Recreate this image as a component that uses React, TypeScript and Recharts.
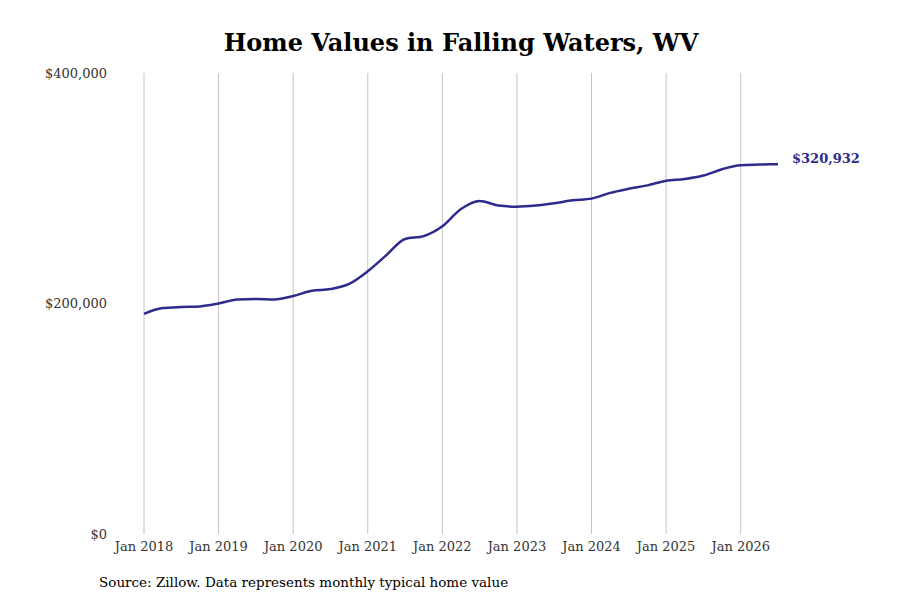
import React from 'react';
import { LineChart, Line, XAxis, YAxis, ReferenceLine } from 'recharts';

// quarterly readings, t = years since Jan 2018
const quarters = [
  0, 0.25, 0.5, 0.75, 1, 1.25, 1.5, 1.75, 2, 2.25, 2.5, 2.75, 3, 3.25, 3.5, 3.75,
  4, 4.25, 4.5, 4.75, 5, 5.25, 5.5, 5.75, 6, 6.25, 6.5, 6.75, 7, 7.25, 7.5, 7.75,
  8, 8.25, 8.5,
];
const values = [
  191000, 196000, 197000, 197500, 200000, 203500, 204000, 203500, 206500, 211000, 212500, 217000,
  228000, 242000, 256000, 258500, 267000, 282000, 289000, 285000, 284000, 285000, 287000, 289500,
  291000, 296000, 299500, 302500, 306500, 308000, 311000, 316500, 320000, 320500, 320932,
];
const yearTicks = [0, 1, 2, 3, 4, 5, 6, 7, 8];
const yearLabels = ['Jan 2018', 'Jan 2019', 'Jan 2020', 'Jan 2021', 'Jan 2022', 'Jan 2023', 'Jan 2024', 'Jan 2025', 'Jan 2026'];
const valueTicks = [0, 200000, 400000];

const data = quarters.map((t, i) => ({ t, value: values[i] }));
const font = '"DejaVu Serif", serif';
const lineColor = '#2e2b8c';

const fmt = (v: number) => '$' + v.toLocaleString('en-US');

const EndLabel = (props: any) => {
  const { x, y, index } = props;
  if (index !== data.length - 1) return null;
  return (
    <text x={x + 14} y={y} dy={-1} fill={lineColor} fontSize={13} fontWeight="bold" fontFamily={font}>
      {fmt(values[values.length - 1])}
    </text>
  );
};

export default function App() {
  return (
    <div style={{ position: 'absolute', left: 0, top: 0, width: 900, height: 600, background: '#fff', fontFamily: font }}>
      <div style={{ position: 'absolute', top: 28, width: 922, textAlign: 'center', fontSize: 24, fontWeight: 'bold' }}>
        Home Values in Falling Waters, WV
      </div>
      <LineChart width={900} height={600} data={data} margin={{ top: 73, right: 122, left: 84, bottom: 36 }}>
        {yearTicks.map((t) => (
          <ReferenceLine key={t} x={t} stroke="#c4c4c4" />
        ))}
        <XAxis
          dataKey="t"
          type="number"
          domain={[0, 8.5]}
          ticks={yearTicks}
          tickFormatter={(v: number) => yearLabels[v]}
          axisLine={false}
          tickLine={false}
          height={30}
          tick={{ fontSize: 13, fill: '#333', fontFamily: font }}
        />
        <YAxis
          domain={[0, 400000]}
          ticks={valueTicks}
          tickFormatter={fmt}
          axisLine={false}
          tickLine={false}
          width={60}
          tick={{ fontSize: 13, fill: '#333', fontFamily: font, dx: -29 }}
        />
        <Line
          type="monotone"
          dataKey="value"
          stroke={lineColor}
          strokeWidth={2.5}
          dot={false}
          isAnimationActive={false}
          label={<EndLabel />}
        />
      </LineChart>
      <div style={{ position: 'absolute', left: 99, top: 574, fontSize: 13.5 }}>
        Source: Zillow. Data represents monthly typical home value
      </div>
    </div>
  );
}
